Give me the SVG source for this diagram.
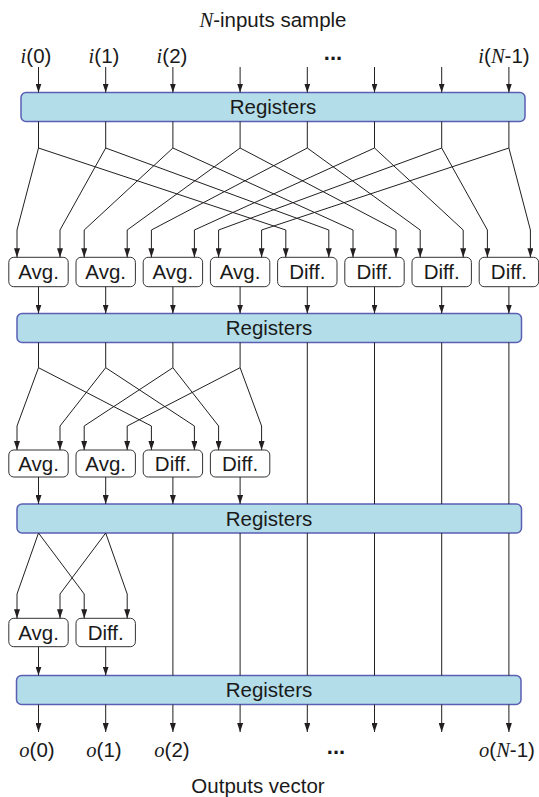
<svg xmlns="http://www.w3.org/2000/svg" width="539" height="797" viewBox="0 0 539 797">
<style>
.reg{fill:#b3dde8;stroke:#5b5fb4;stroke-width:1.5}
.box{fill:#fff;stroke:#333;stroke-width:1}
.t{font-family:"Liberation Sans",Arial,sans-serif;font-size:20.5px;fill:#1a1a1a;text-anchor:middle}
.it{font-family:"Liberation Serif","Times New Roman",serif;font-style:italic}
.ln{fill:none;stroke:#231f20;stroke-width:1}
.ar{fill:none;stroke:#231f20;stroke-width:1;marker-end:url(#ah)}
.dots{font-family:"Liberation Sans",Arial,sans-serif;font-size:22px;font-weight:bold;fill:#1a1a1a;text-anchor:middle}
</style>
<defs>
<marker id="ah" viewBox="0 0 9 6" refX="9" refY="3" markerWidth="9" markerHeight="6" markerUnits="userSpaceOnUse" orient="auto">
<path d="M0,0 L9,3 L0,6 z" fill="#231f20"/>
</marker>
</defs>
<rect width="539" height="797" fill="#fff"/>

<g id="labels-top">
<text class="t" x="273" y="27"><tspan class="it">N</tspan>-inputs sample</text>
<text class="t" x="36" y="63"><tspan class="it">i</tspan>(0)</text>
<text class="t" x="104" y="63"><tspan class="it">i</tspan>(1)</text>
<text class="t" x="172" y="63"><tspan class="it">i</tspan>(2)</text>
<text class="dots" x="333" y="60">...</text>
<text class="t" x="504" y="63"><tspan class="it">i</tspan>(<tspan class="it">N</tspan>-1)</text>
</g>

<g id="reg1"><rect class="reg" x="21" y="92.5" width="504" height="29" rx="5"/><text class="t" x="273" y="114">Registers</text></g>
<g id="reg2"><rect class="reg" x="17" y="313.5" width="504.5" height="29" rx="5"/><text class="t" x="269" y="335">Registers</text></g>
<g id="reg3"><rect class="reg" x="17" y="504" width="504.5" height="29" rx="5"/><text class="t" x="269" y="525.5">Registers</text></g>
<g id="reg4"><rect class="reg" x="16.5" y="675.5" width="504.5" height="29" rx="5"/><text class="t" x="269" y="697">Registers</text></g>

<g id="stage1-boxes">
<g id="s1-avg0"><rect class="box" x="8.8" y="257.3" width="59.4" height="29.4" rx="5"/><text class="t" x="38.5" y="278.5">Avg.</text></g>
<g id="s1-avg1"><rect class="box" x="76" y="257.3" width="59.4" height="29.4" rx="5"/><text class="t" x="105.7" y="278.5">Avg.</text></g>
<g id="s1-avg2"><rect class="box" x="143.2" y="257.3" width="59.4" height="29.4" rx="5"/><text class="t" x="172.9" y="278.5">Avg.</text></g>
<g id="s1-avg3"><rect class="box" x="210.4" y="257.3" width="59.4" height="29.4" rx="5"/><text class="t" x="240.1" y="278.5">Avg.</text></g>
<g id="s1-diff0"><rect class="box" x="277.6" y="257.3" width="59.4" height="29.4" rx="5"/><text class="t" x="307.3" y="278.5">Diff.</text></g>
<g id="s1-diff1"><rect class="box" x="344.8" y="257.3" width="59.4" height="29.4" rx="5"/><text class="t" x="374.5" y="278.5">Diff.</text></g>
<g id="s1-diff2"><rect class="box" x="412" y="257.3" width="59.4" height="29.4" rx="5"/><text class="t" x="441.7" y="278.5">Diff.</text></g>
<g id="s1-diff3"><rect class="box" x="479.2" y="257.3" width="59.4" height="29.4" rx="5"/><text class="t" x="508.9" y="278.5">Diff.</text></g>
</g>

<g id="stage2-boxes">
<g id="s2-avg0"><rect class="box" x="8.8" y="450" width="59.4" height="27" rx="5"/><text class="t" x="38.5" y="470.5">Avg.</text></g>
<g id="s2-avg1"><rect class="box" x="76" y="450" width="59.4" height="27" rx="5"/><text class="t" x="105.7" y="470.5">Avg.</text></g>
<g id="s2-diff0"><rect class="box" x="143.2" y="450" width="59.4" height="27" rx="5"/><text class="t" x="172.9" y="470.5">Diff.</text></g>
<g id="s2-diff1"><rect class="box" x="210.4" y="450" width="59.4" height="27" rx="5"/><text class="t" x="240.1" y="470.5">Diff.</text></g>
</g>

<g id="stage3-boxes">
<g id="s3-avg0"><rect class="box" x="8.8" y="618.3" width="59.4" height="28.4" rx="5"/><text class="t" x="38.5" y="639.5">Avg.</text></g>
<g id="s3-diff0"><rect class="box" x="76" y="618.3" width="59.4" height="28.4" rx="5"/><text class="t" x="105.7" y="639.5">Diff.</text></g>
</g>

<g id="labels-bottom">
<text class="t" x="37" y="757"><tspan class="it">o</tspan>(0)</text>
<text class="t" x="104" y="757"><tspan class="it">o</tspan>(1)</text>
<text class="t" x="172" y="757"><tspan class="it">o</tspan>(2)</text>
<text class="dots" x="336" y="754">...</text>
<text class="t" x="507" y="757"><tspan class="it">o</tspan>(<tspan class="it">N</tspan>-1)</text>
<text class="t" x="258" y="793">Outputs vector</text>
</g>

<g id="connectors">
<path class="ar" d="M38.5,67V92.5"/><path class="ar" d="M105.7,67V92.5"/><path class="ar" d="M172.9,67V92.5"/><path class="ar" d="M240.1,67V92.5"/>
<path class="ar" d="M307.3,67V92.5"/><path class="ar" d="M374.5,67V92.5"/><path class="ar" d="M441.7,67V92.5"/><path class="ar" d="M508.9,67V92.5"/>
<path class="ln" d="M38.5,121.5V148M105.7,121.5V148M172.9,121.5V148M240.1,121.5V148M307.3,121.5V148M374.5,121.5V148M441.7,121.5V148M508.9,121.5V148"/>
<path class="ar" d="M38.5,148L17,230V257.3"/>
<path class="ar" d="M105.7,148L60,230V257.3"/>
<path class="ar" d="M172.9,148L84.2,230V257.3"/>
<path class="ar" d="M240.1,148L127.2,230V257.3"/>
<path class="ar" d="M307.3,148L151.4,230V257.3"/>
<path class="ar" d="M374.5,148L194.4,230V257.3"/>
<path class="ar" d="M441.7,148L218.6,230V257.3"/>
<path class="ar" d="M508.9,148L261.6,230V257.3"/>
<path class="ar" d="M38.5,148L285.8,230V257.3"/>
<path class="ar" d="M105.7,148L328.8,230V257.3"/>
<path class="ar" d="M172.9,148L353,230V257.3"/>
<path class="ar" d="M240.1,148L396,230V257.3"/>
<path class="ar" d="M307.3,148L420.2,230V257.3"/>
<path class="ar" d="M374.5,148L463.2,230V257.3"/>
<path class="ar" d="M441.7,148L487.4,230V257.3"/>
<path class="ar" d="M508.9,148L530.4,230V257.3"/>
<path class="ar" d="M38.5,286.7V313.5"/><path class="ar" d="M105.7,286.7V313.5"/><path class="ar" d="M172.9,286.7V313.5"/><path class="ar" d="M240.1,286.7V313.5"/>
<path class="ar" d="M307.3,286.7V313.5"/><path class="ar" d="M374.5,286.7V313.5"/><path class="ar" d="M441.7,286.7V313.5"/><path class="ar" d="M508.9,286.7V313.5"/>
<path class="ln" d="M38.5,342.5V367.7M105.7,342.5V367.7M172.9,342.5V367.7M240.1,342.5V367.7"/>
<path class="ar" d="M38.5,367.7L17,426V450"/>
<path class="ar" d="M105.7,367.7L60,426V450"/>
<path class="ar" d="M172.9,367.7L84.2,426V450"/>
<path class="ar" d="M240.1,367.7L127.2,426V450"/>
<path class="ar" d="M38.5,367.7L151.4,426V450"/>
<path class="ar" d="M105.7,367.7L194.4,426V450"/>
<path class="ar" d="M172.9,367.7L218.6,426V450"/>
<path class="ar" d="M240.1,367.7L261.6,426V450"/>
<path class="ln" d="M307.3,342.5V504M374.5,342.5V504M441.7,342.5V504M508.9,342.5V504"/>
<path class="ar" d="M38.5,477V504"/><path class="ar" d="M105.7,477V504"/><path class="ar" d="M172.9,477V504"/><path class="ar" d="M240.1,477V504"/>
<path class="ar" d="M38.5,533L17,594V618.3"/>
<path class="ar" d="M105.7,533L60,594V618.3"/>
<path class="ar" d="M38.5,533L84.2,594V618.3"/>
<path class="ar" d="M105.7,533L127.2,594V618.3"/>
<path class="ln" d="M172.9,533V675.5M240.1,533V675.5M307.3,533V675.5M374.5,533V675.5M441.7,533V675.5M508.9,533V675.5"/>
<path class="ar" d="M38.5,646.7V675.5"/><path class="ar" d="M105.7,646.7V675.5"/>
<path class="ar" d="M38.5,704.5V732"/><path class="ar" d="M105.7,704.5V732"/><path class="ar" d="M172.9,704.5V732"/><path class="ar" d="M240.1,704.5V732"/>
<path class="ar" d="M307.3,704.5V732"/><path class="ar" d="M374.5,704.5V732"/><path class="ar" d="M441.7,704.5V732"/><path class="ar" d="M508.9,704.5V732"/>
</g>
</svg>
